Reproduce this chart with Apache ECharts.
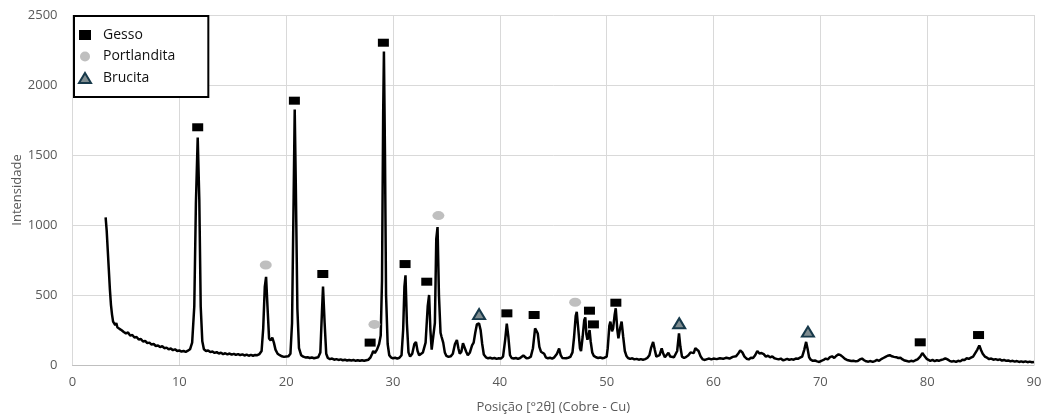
<!DOCTYPE html>
<html>
<head>
<meta charset="utf-8">
<script src="https://cdn.jsdelivr.net/npm/echarts@6/dist/echarts.min.js"></script>
<style>
  html, body { margin: 0; padding: 0; background: #fff; }
  #chart { width: 1046px; height: 419px; }
</style>
</head>
<body>
<div id="chart"></div>
<script>
// difratograma: [posicao 2theta, intensidade]
let pattern = [
  [3.1,1055],[3.2,960],[3.3,820],[3.4,680],[3.5,540],[3.6,430],[3.7,360],[3.8,310],[3.9,318],[4.0,285],
  [4.1,300],[4.2,270],[4.3,282],[4.4,258],[4.5,266],[4.6,248],[4.7,255],[4.8,236],[4.9,244],[5.0,226],
  [5.2,232],[5.4,210],[5.6,214],[5.8,196],[6.0,200],[6.2,182],[6.4,186],[6.6,168],[6.8,172],[7.0,156],
  [7.2,160],[7.4,146],[7.6,150],[7.8,136],[8.0,140],[8.2,128],[8.4,134],[8.6,120],[8.8,124],[9.0,112],
  [9.2,118],[9.4,106],[9.6,112],[9.8,100],[10.0,104],[10.2,96],[10.4,100],[10.6,94],[10.8,102],[11.0,112],
  [11.2,160],[11.4,420],[11.55,1150],[11.72,1625],[11.87,1180],[12.0,420],[12.15,170],[12.3,112],[12.5,100],[12.7,104],
  [12.9,92],[13.1,96],[13.3,86],[13.5,92],[13.7,82],[13.9,88],[14.1,78],[14.3,84],[14.5,76],[14.7,82],
  [14.9,74],[15.1,80],[15.3,72],[15.5,78],[15.7,70],[15.9,76],[16.1,68],[16.3,74],[16.5,66],[16.7,72],
  [16.9,66],[17.1,72],[17.3,70],[17.5,78],[17.7,100],[17.85,260],[18.0,560],[18.12,630],[18.25,420],[18.4,190],
  [18.55,175],[18.7,195],[18.85,160],[19.0,110],[19.2,80],[19.4,70],[19.6,62],[19.8,58],[20.0,60],[20.2,62],
  [20.4,80],[20.55,300],[20.7,1200],[20.8,1825],[20.9,1300],[21.05,400],[21.2,120],[21.4,70],[21.6,60],[21.8,54],
  [22.0,56],[22.2,50],[22.4,54],[22.6,48],[22.8,52],[23.0,55],[23.2,90],[23.35,380],[23.45,560],[23.6,300],
  [23.75,80],[23.9,50],[24.1,42],[24.3,46],[24.5,38],[24.7,42],[24.9,36],[25.1,40],[25.3,34],[25.5,38],
  [25.7,32],[25.9,36],[26.1,32],[26.3,36],[26.5,30],[26.7,34],[26.9,30],[27.1,34],[27.3,30],[27.5,34],
  [27.7,38],[27.9,55],[28.05,80],[28.15,100],[28.3,85],[28.5,110],[28.7,150],[28.85,210],[28.97,600],[29.08,1800],
  [29.15,2240],[29.25,1500],[29.35,500],[29.5,150],[29.65,70],[29.8,55],[30.0,48],[30.2,52],[30.4,46],[30.6,52],
  [30.8,70],[30.95,250],[31.07,560],[31.17,640],[31.3,300],[31.45,90],[31.6,60],[31.8,80],[32.0,150],[32.15,165],
  [32.3,100],[32.45,70],[32.6,75],[32.8,90],[33.05,160],[33.25,420],[33.38,500],[33.5,250],[33.62,110],[33.78,100],
  [33.92,300],[34.05,900],[34.17,985],[34.3,500],[34.45,230],[34.55,200],[34.7,160],[34.85,90],[35.0,65],[35.2,58],
  [35.4,62],[35.6,80],[35.8,150],[35.98,178],[36.12,120],[36.25,80],[36.4,95],[36.55,155],[36.68,160],[36.85,95],
  [37.0,70],[37.2,90],[37.4,140],[37.55,160],[37.7,230],[37.85,290],[38.05,298],[38.2,250],[38.35,150],[38.5,75],
  [38.7,55],[38.9,48],[39.1,52],[39.3,46],[39.5,50],[39.7,44],[39.9,48],[40.1,46],[40.3,60],[40.5,180],
  [40.65,295],[40.8,200],[40.95,70],[41.1,50],[41.3,46],[41.5,50],[41.7,44],[41.9,50],[42.05,60],[42.2,68],
  [42.35,55],[42.5,48],[42.7,50],[42.9,60],[43.1,120],[43.3,262],[43.45,240],[43.55,225],[43.7,130],[43.85,95],
  [44.0,100],[44.15,80],[44.3,55],[44.5,48],[44.7,52],[44.9,46],[45.1,55],[45.35,80],[45.55,118],[45.7,70],
  [45.85,50],[46.0,50],[46.2,48],[46.4,52],[46.6,58],[46.8,90],[46.95,200],[47.1,350],[47.2,380],[47.35,250],
  [47.5,120],[47.6,100],[47.75,200],[47.9,320],[48.0,340],[48.1,220],[48.2,180],[48.3,210],[48.4,250],[48.5,170],
  [48.65,90],[48.8,65],[49.0,55],[49.2,50],[49.4,54],[49.6,48],[49.8,52],[50.0,60],[50.1,120],[50.25,280],
  [50.35,310],[50.5,240],[50.6,260],[50.75,360],[50.85,405],[51.0,250],[51.1,190],[51.25,260],[51.4,310],[51.55,200],
  [51.7,100],[51.85,65],[52.0,50],[52.2,44],[52.4,48],[52.6,40],[52.8,44],[53.0,38],[53.2,42],[53.4,38],
  [53.6,42],[53.8,50],[54.0,70],[54.15,120],[54.35,165],[54.5,110],[54.65,60],[54.8,55],[54.95,70],[55.15,118],
  [55.3,80],[55.45,55],[55.6,60],[55.78,88],[55.95,60],[56.1,50],[56.3,55],[56.45,60],[56.6,100],[56.77,225],
  [56.9,130],[57.05,60],[57.25,50],[57.45,58],[57.65,70],[57.85,90],[58.0,100],[58.15,85],[58.3,120],[58.45,130],
  [58.6,100],[58.8,60],[59.0,40],[59.2,36],[59.4,42],[59.6,46],[59.8,40],[60.0,46],[60.3,42],[60.6,48],
  [60.9,44],[61.2,52],[61.5,46],[61.8,58],[62.1,62],[62.3,80],[62.5,105],[62.7,90],[62.9,60],[63.1,45],
  [63.3,40],[63.5,52],[63.7,50],[63.9,70],[64.1,100],[64.3,82],[64.5,85],[64.7,78],[64.9,60],[65.1,66],
  [65.3,55],[65.5,62],[65.7,48],[65.9,44],[66.1,40],[66.3,46],[66.5,34],[66.7,38],[66.9,44],[67.1,36],
  [67.3,42],[67.5,38],[67.7,46],[67.9,44],[68.1,52],[68.3,60],[68.5,110],[68.67,165],[68.82,110],[68.95,55],
  [69.1,38],[69.3,30],[69.5,32],[69.7,26],[69.9,22],[70.1,30],[70.3,36],[70.5,46],[70.7,40],[70.9,56],
  [71.1,62],[71.3,50],[71.5,66],[71.7,76],[71.9,70],[72.1,58],[72.3,44],[72.5,36],[72.7,32],[72.9,28],
  [73.1,30],[73.3,26],[73.5,28],[73.7,40],[73.9,46],[74.1,34],[74.3,26],[74.5,24],[74.7,28],[74.9,22],
  [75.1,28],[75.3,36],[75.5,30],[75.7,42],[75.9,50],[76.1,58],[76.3,66],[76.5,70],[76.7,62],[76.9,58],
  [77.1,56],[77.3,50],[77.5,52],[77.7,40],[77.9,32],[78.1,28],[78.3,24],[78.5,30],[78.7,26],[78.9,34],
  [79.1,40],[79.35,60],[79.55,85],[79.75,65],[79.95,44],[80.1,36],[80.3,30],[80.5,36],[80.7,28],[80.9,34],
  [81.1,30],[81.3,36],[81.5,40],[81.7,48],[81.9,40],[82.1,30],[82.3,24],[82.5,28],[82.7,22],[82.9,30],
  [83.1,26],[83.3,38],[83.5,36],[83.7,48],[83.9,44],[84.1,52],[84.3,60],[84.5,85],[84.7,110],[84.88,140],
  [85.05,105],[85.2,80],[85.4,60],[85.6,52],[85.8,42],[86.0,46],[86.2,38],[86.4,42],[86.6,36],[86.8,40],
  [87.0,32],[87.2,36],[87.4,30],[87.6,32],[87.8,26],[88.0,30],[88.2,24],[88.4,28],[88.6,22],[88.8,26],
  [89.0,22],[89.2,26],[89.4,20],[89.6,24],[89.8,20],[90.0,22]
];

// marcadores das fases
let gessoX = [11.72, 20.77, 23.43, 27.86, 29.1, 31.13, 33.16, 40.66, 43.21, 48.39, 48.76, 50.86, 79.35, 84.81];
let gessoY = [1698, 1888, 650, 160, 2302, 721, 595, 369, 357, 388, 290, 445, 162, 214];
let portX = [18.09, 28.26, 34.25, 47.05];
let portY = [714, 290, 1067, 448];
let brucX = [38.06, 56.79, 68.84];
let brucY = [364, 298, 238];

let xTicks = [0, 10, 20, 30, 40, 50, 60, 70, 80, 90];
let yTicks = [0, 500, 1000, 1500, 2000, 2500];

function zip(xs, ys) {
  return xs.map((x, i) => [x, ys[i]]);
}

let font = '"Open Sans", "Noto Sans", sans-serif';

let option = {
  animation: false,
  backgroundColor: '#fff',
  grid: {
    left: 72.5,
    right: 12,
    top: 15,
    bottom: 54,
    outerBoundsMode: 'none',
    containLabel: false
  },
  legend: {
    orient: 'vertical',
    left: 74,
    top: 16,
    padding: [11, 33, 11, 4],
    itemGap: 5.5,
    itemWidth: 12,
    itemHeight: 10,
    backgroundColor: '#fff',
    borderColor: '#000',
    borderWidth: 2,
    borderRadius: 0,
    textStyle: {
      fontFamily: font,
      fontSize: 14,
      lineHeight: 16,
      color: '#111',
      padding: [0, 0, 0, 7]
    },
    data: [
      { name: 'Gesso', icon: 'rect' },
      { name: 'Portlandita', icon: 'circle' },
      { name: 'Brucita', icon: 'triangle' }
    ]
  },
  xAxis: {
    type: 'value',
    min: xTicks[0],
    max: xTicks[xTicks.length - 1],
    interval: 10,
    name: 'Posição [°2θ] (Cobre - Cu)',
    nameLocation: 'middle',
    nameGap: 36,
    nameMoveOverlap: false,
    nameTextStyle: { fontFamily: font, fontSize: 13, color: '#595959' },
    axisLine: { show: true, lineStyle: { color: '#bfbfbf', width: 1 } },
    axisTick: { show: false },
    axisLabel: { fontFamily: font, fontSize: 13, color: '#595959', margin: 11 },
    splitLine: { show: true, lineStyle: { color: '#d9d9d9', width: 1 } }
  },
  yAxis: {
    type: 'value',
    min: yTicks[0],
    max: yTicks[yTicks.length - 1],
    interval: 500,
    name: 'Intensidade',
    nameLocation: 'middle',
    nameGap: 49,
    nameMoveOverlap: false,
    nameRotate: 90,
    nameTextStyle: { fontFamily: font, fontSize: 13, color: '#595959' },
    axisLine: { show: false },
    axisTick: { show: false },
    axisLabel: {
      fontFamily: font, fontSize: 13, color: '#595959', margin: 15,
      formatter: (v) => String(v)
    },
    splitLine: { show: true, lineStyle: { color: '#d9d9d9', width: 1 } }
  },
  series: [
    {
      name: 'difratograma',
      type: 'line',
      data: pattern,
      symbol: 'none',
      smooth: false,
      z: 2,
      lineStyle: { color: '#000', width: 2.5 }
    },
    {
      name: 'Gesso',
      type: 'scatter',
      data: zip(gessoX, gessoY),
      symbol: 'rect',
      symbolSize: [11, 8],
      z: 3,
      itemStyle: { color: '#000', opacity: 1 }
    },
    {
      name: 'Portlandita',
      type: 'scatter',
      data: zip(portX, portY),
      symbol: 'circle',
      symbolSize: [12, 9],
      z: 3,
      itemStyle: { color: '#bfbfbf', opacity: 1 }
    },
    {
      name: 'Brucita',
      type: 'scatter',
      data: zip(brucX, brucY),
      symbol: 'triangle',
      symbolSize: [12, 10],
      z: 3,
      itemStyle: { color: '#7f8c90', borderColor: '#17394a', borderWidth: 2, opacity: 1 }
    }
  ]
};

let chart = echarts.init(document.getElementById('chart'));
chart.setOption(option);
</script>
</body>
</html>
